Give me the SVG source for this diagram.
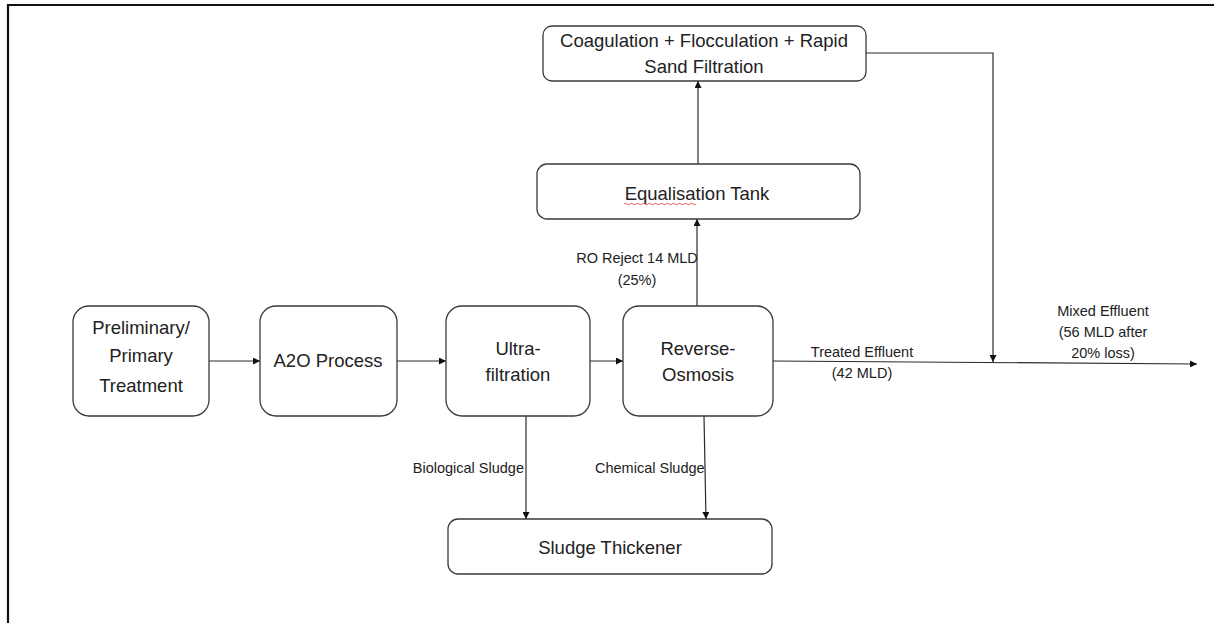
<svg xmlns="http://www.w3.org/2000/svg" width="1214" height="623" viewBox="0 0 1214 623">
<defs>
<style>
.box{fill:#fff;stroke:#3a3a3a;stroke-width:1.3}
.nt{font-family:"Liberation Sans",Arial,sans-serif;font-size:18.5px;fill:#222;text-anchor:middle}
.lb{font-family:"Liberation Sans",Arial,sans-serif;font-size:14.5px;fill:#222}
.ln{fill:none;stroke:#2a2a2a;stroke-width:1.2}
.frame{fill:none;stroke:#111;stroke-width:2.2}
</style>
<marker id="ah" viewBox="0 0 10 10" refX="10" refY="5" markerWidth="8" markerHeight="7" markerUnits="userSpaceOnUse" orient="auto">
<path d="M0,0 L10,5 L0,10 z" fill="#111"/>
</marker>
</defs>
<rect width="1214" height="623" fill="#fff"/>
<path class="frame" d="M8,623 V5 H1214"/>

<g id="connectors">
<line class="ln" x1="209" y1="361" x2="260" y2="361" marker-end="url(#ah)"/>
<line class="ln" x1="397" y1="361" x2="446" y2="361" marker-end="url(#ah)"/>
<line class="ln" x1="590" y1="361" x2="623" y2="361" marker-end="url(#ah)"/>
<line class="ln" x1="773" y1="361" x2="1197" y2="364" marker-end="url(#ah)"/>
<polyline class="ln" points="866,53 993,53 993,362" marker-end="url(#ah)"/>
<line class="ln" x1="697" y1="306" x2="697" y2="219" marker-end="url(#ah)"/>
<line class="ln" x1="698" y1="164" x2="698" y2="81" marker-end="url(#ah)"/>
<line class="ln" x1="526" y1="416" x2="526" y2="519" marker-end="url(#ah)"/>
<line class="ln" x1="704" y1="416" x2="706" y2="519" marker-end="url(#ah)"/>
<text class="lb" x="637" y="263" text-anchor="middle">RO Reject 14 MLD</text>
<text class="lb" x="637" y="285" text-anchor="middle">(25%)</text>
<text class="lb" x="862" y="357" text-anchor="middle">Treated Effluent</text>
<text class="lb" x="862" y="378" text-anchor="middle">(42 MLD)</text>
<text class="lb" x="1103" y="316" text-anchor="middle">Mixed Effluent</text>
<text class="lb" x="1103" y="337" text-anchor="middle">(56 MLD after</text>
<text class="lb" x="1103" y="358" text-anchor="middle">20% loss)</text>
<text class="lb" x="524" y="473" text-anchor="end">Biological Sludge</text>
<text class="lb" x="595" y="473">Chemical Sludge</text>
</g>

<g id="n-prelim">
<rect class="box" x="73" y="306" width="136" height="110" rx="16"/>
<text class="nt" x="141" y="334">Preliminary/</text>
<text class="nt" x="141" y="362">Primary</text>
<text class="nt" x="141" y="392">Treatment</text>
</g>
<g id="n-a2o">
<rect class="box" x="260" y="306" width="137" height="110" rx="16"/>
<text class="nt" x="328" y="367">A2O Process</text>
</g>
<g id="n-uf">
<rect class="box" x="446" y="306" width="144" height="110" rx="16"/>
<text class="nt" x="518" y="355">Ultra-</text>
<text class="nt" x="518" y="381">filtration</text>
</g>
<g id="n-ro">
<rect class="box" x="623" y="306" width="150" height="110" rx="16"/>
<text class="nt" x="698" y="355">Reverse-</text>
<text class="nt" x="698" y="381">Osmosis</text>
</g>
<g id="n-coag">
<rect class="box" x="543" y="26" width="323" height="55" rx="9"/>
<text class="nt" x="704" y="47">Coagulation + Flocculation + Rapid</text>
<text class="nt" x="704" y="73">Sand Filtration</text>
</g>
<g id="n-eq">
<rect class="box" x="537" y="164" width="323" height="55" rx="10"/>
<text class="nt" x="697" y="200">Equalisation Tank</text>
<path d="M624,204 q1.5,-1.5 3,0 t3,0 t3,0 t3,0 t3,0 t3,0 t3,0 t3,0 t3,0 t3,0 t3,0 t3,0 t3,0 t3,0 t3,0 t3,0 t3,0 t3,0 t3,0 t3,0 t3,0 t3,0 t3,0 t3,0" fill="none" stroke="#e03030" stroke-width="0.8"/>
</g>
<g id="n-thick">
<rect class="box" x="448" y="519" width="324" height="55" rx="10"/>
<text class="nt" x="610" y="554">Sludge Thickener</text>
</g>
</svg>
